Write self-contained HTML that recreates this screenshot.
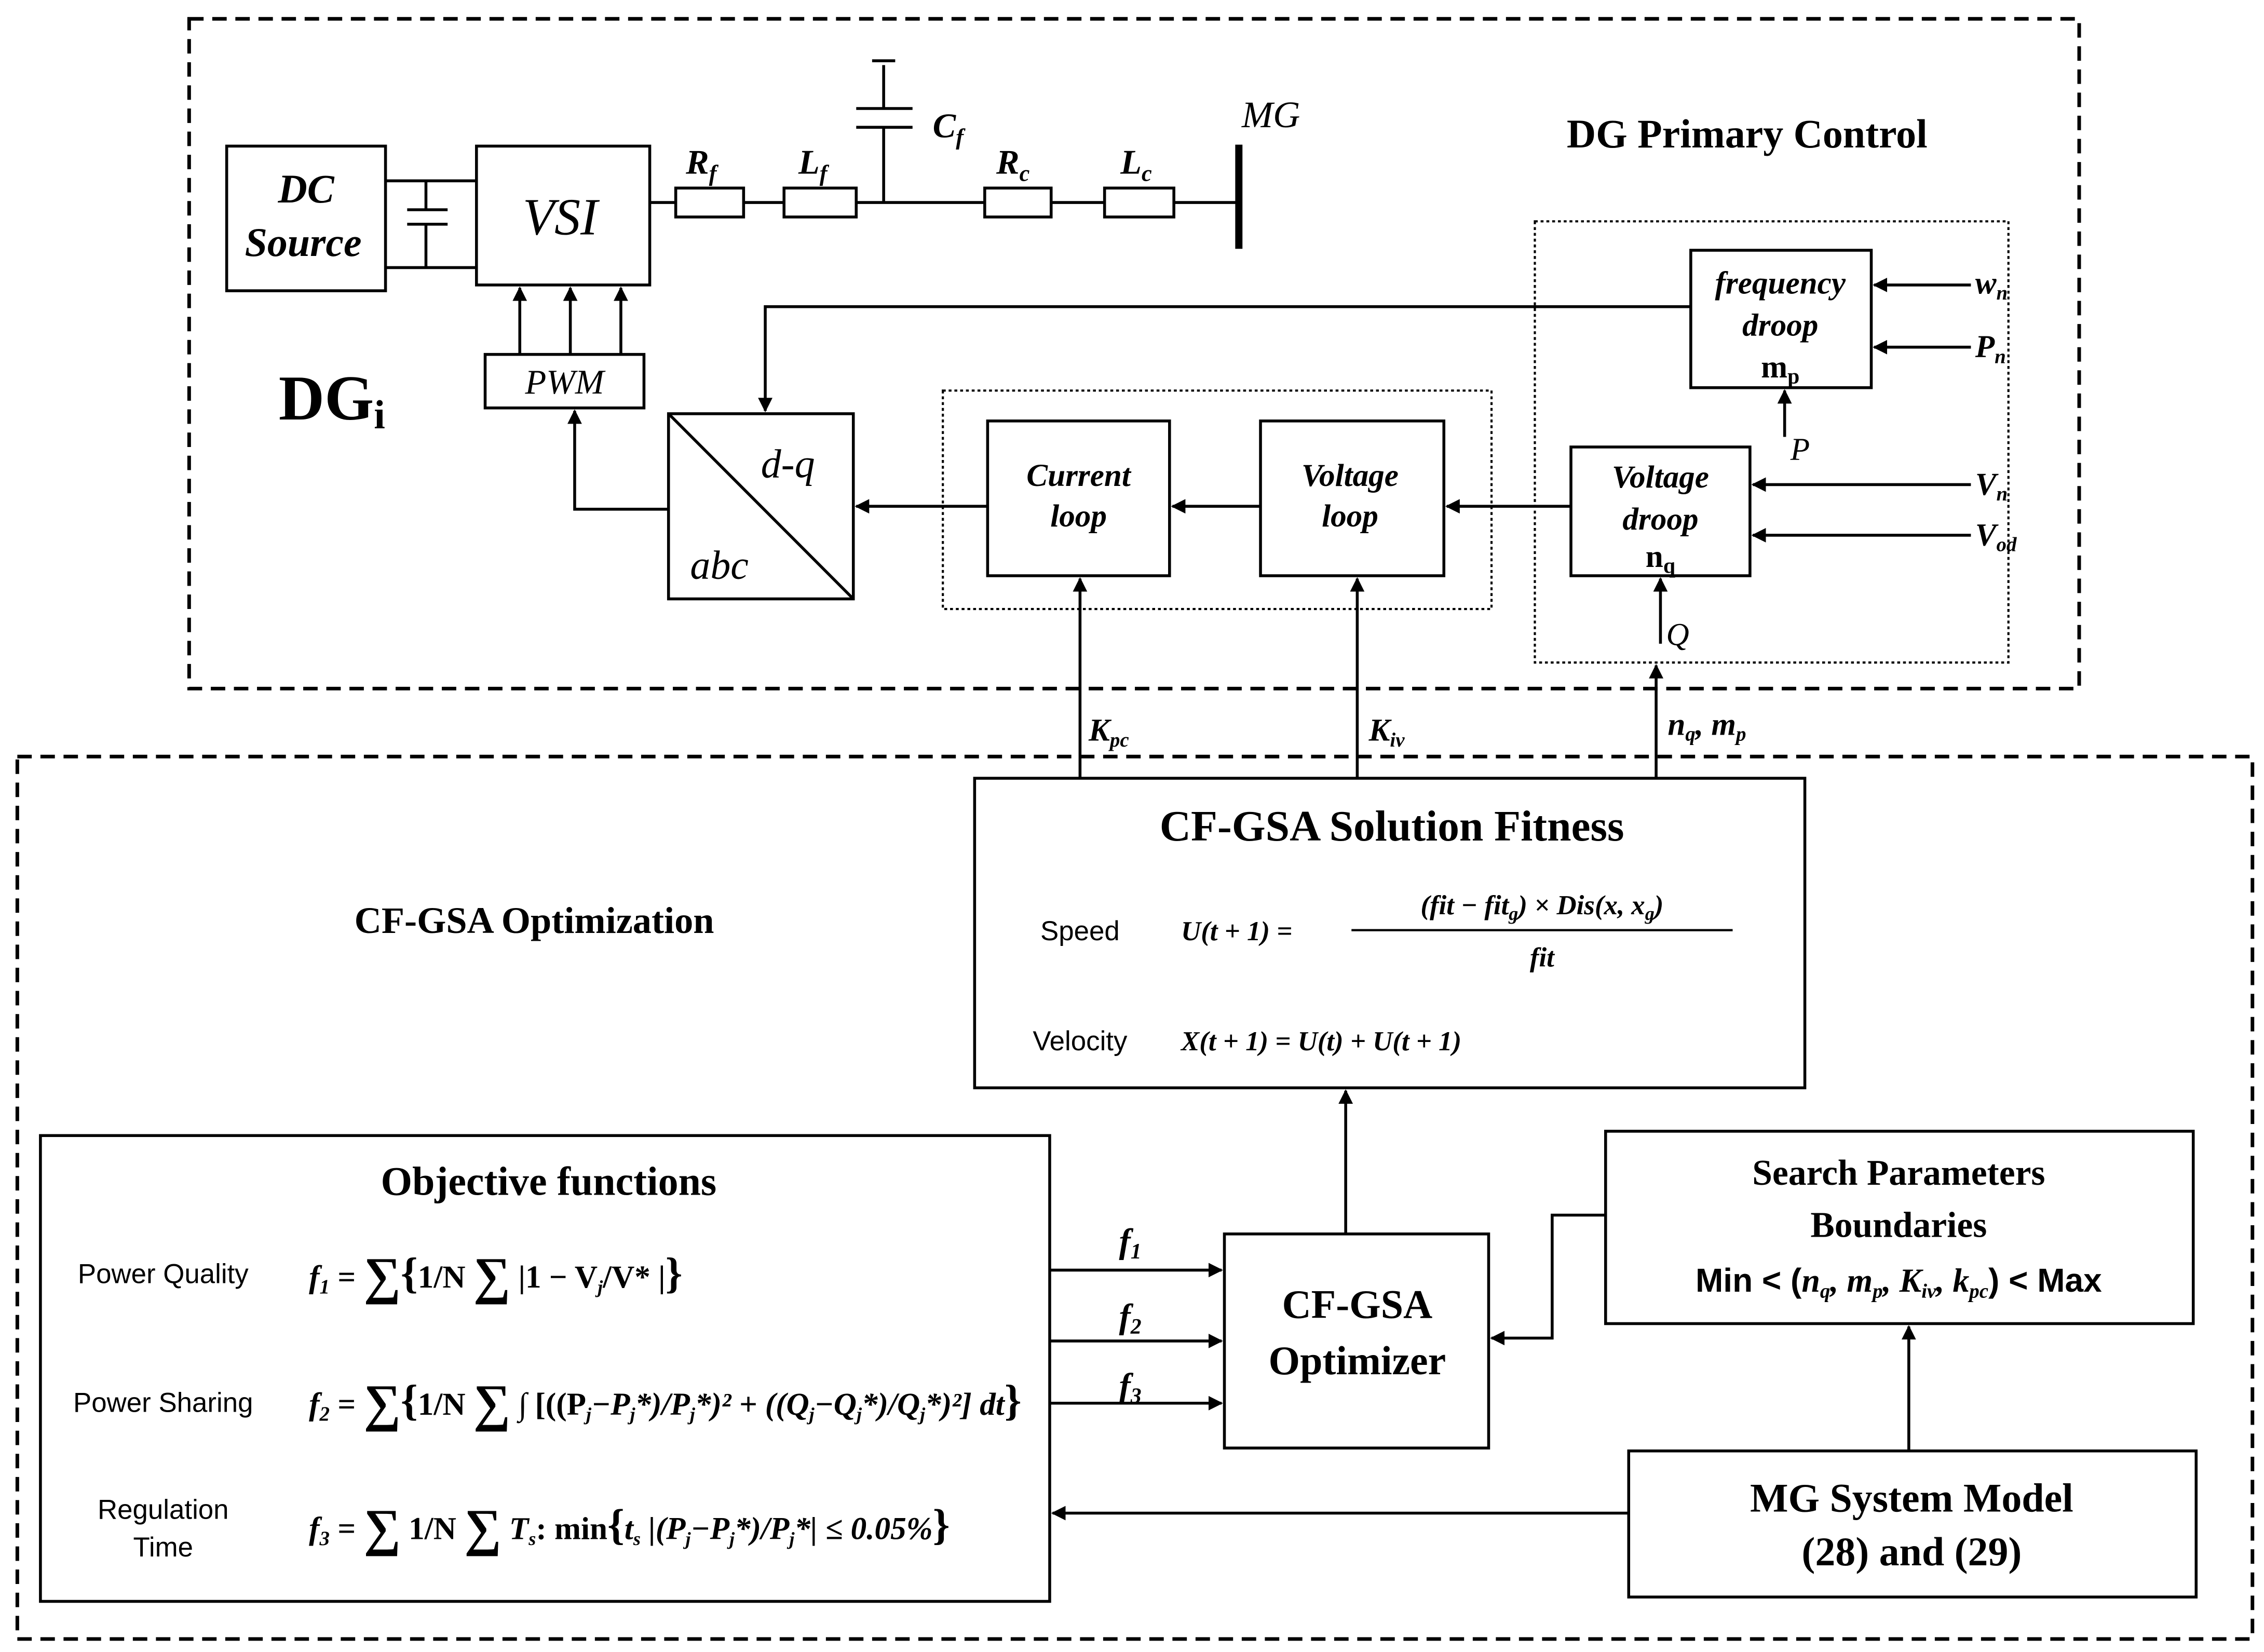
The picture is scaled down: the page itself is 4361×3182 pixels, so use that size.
<!DOCTYPE html>
<html><head><meta charset="utf-8"><style>
html,body{margin:0;padding:0;background:#fff;}
svg{display:block;}
text{font-family:"Liberation Serif",serif;}
.s{font-family:"Liberation Sans",sans-serif;}
</style></head><body>
<svg width="4361" height="3182" viewBox="0 0 1568 1142" preserveAspectRatio="none" xmlns="http://www.w3.org/2000/svg">
<defs><marker id="a" markerWidth="10" markerHeight="10" refX="9" refY="5" orient="auto" markerUnits="userSpaceOnUse"><path d="M0,0 L10,5 L0,10 z" fill="#000"/></marker></defs>
<g fill="none" stroke="#000" stroke-width="2">
<rect x="131" y="13" width="1309" height="463" stroke-dasharray="10,6" stroke-width="2.5"/>
<rect x="12" y="523" width="1548" height="610" stroke-dasharray="10,6" stroke-width="2.5"/>
<rect x="157" y="101" width="110" height="100"/>
<rect x="330" y="101" width="120" height="96"/>
<path d="M267,125 H330 M267,185 H330 M295,125 V145 M295,155 V185 M282,145 H310 M282,155 H310"/>
<path d="M450,140 H468 M515,140 H543 M593,140 H682 M728,140 H765 M813,140 H858"/>
<rect x="468" y="130" width="47" height="20"/>
<rect x="543" y="130" width="50" height="20"/>
<rect x="682" y="130" width="46" height="20"/>
<rect x="765" y="130" width="48" height="20"/>
<path d="M612,140 V88 M593,88 H632 M593,75 H632 M612,75 V45 M604,42 H620"/>
<path d="M858,100 V172" stroke-width="5"/>
<rect x="336" y="245" width="110" height="37"/>
<path d="M360,245 V199" marker-end="url(#a)"/>
<path d="M395,245 V199" marker-end="url(#a)"/>
<path d="M430,245 V199" marker-end="url(#a)"/>
<rect x="463" y="286" width="128" height="128"/>
<path d="M463,286 L591,414"/>
<path d="M463,352 H398 V284" marker-end="url(#a)"/>
<rect x="653" y="270" width="380" height="151" stroke-dasharray="2,2" stroke-width="1.5"/>
<rect x="684" y="291" width="126" height="107"/>
<rect x="873" y="291" width="127" height="107"/>
<path d="M873,350 H812" marker-end="url(#a)"/>
<path d="M684,350 H593" marker-end="url(#a)"/>
<rect x="1063" y="153" width="328" height="305" stroke-dasharray="2,2" stroke-width="1.5"/>
<rect x="1171" y="173" width="125" height="95"/>
<rect x="1088" y="309" width="124" height="89"/>
<path d="M1171,212 H530 V284" marker-end="url(#a)"/>
<path d="M1088,350 H1002" marker-end="url(#a)"/>
<path d="M1365,197 H1298" marker-end="url(#a)"/>
<path d="M1365,240 H1298" marker-end="url(#a)"/>
<path d="M1365,335 H1214" marker-end="url(#a)"/>
<path d="M1365,370 H1214" marker-end="url(#a)"/>
<path d="M1236,302 V270" marker-end="url(#a)"/>
<path d="M1150,445 V400" marker-end="url(#a)"/>
<path d="M748,538 V400" marker-end="url(#a)"/>
<path d="M940,538 V400" marker-end="url(#a)"/>
<path d="M1147,538 V460" marker-end="url(#a)"/>
<rect x="675" y="538" width="575" height="214"/>
<rect x="28" y="785" width="699" height="322"/>
<rect x="848" y="853" width="183" height="148"/>
<path d="M932,853 V754" marker-end="url(#a)"/>
<path d="M727,878 H846" marker-end="url(#a)"/>
<path d="M727,927 H846" marker-end="url(#a)"/>
<path d="M727,970 H846" marker-end="url(#a)"/>
<rect x="1112" y="782" width="407" height="133"/>
<path d="M1112,840 H1075 V925 H1033" marker-end="url(#a)"/>
<rect x="1128" y="1003" width="393" height="101"/>
<path d="M1322,1003 V917" marker-end="url(#a)"/>
<path d="M1128,1046 H729" marker-end="url(#a)"/>
</g>
<g fill="#000">
<text x="212" y="140" font-size="28" font-weight="bold" font-style="italic" text-anchor="middle">DC</text>
<text x="210" y="177" font-size="28" font-weight="bold" font-style="italic" text-anchor="middle">Source</text>
<text x="388" y="162" font-size="36" font-style="italic" text-anchor="middle">VSI</text>
<text x="475" y="120" font-size="24" font-weight="bold" font-style="italic">R<tspan font-size="16" dy="5">f</tspan></text>
<text x="553" y="120" font-size="24" font-weight="bold" font-style="italic">L<tspan font-size="16" dy="5">f</tspan></text>
<text x="646" y="95" font-size="24" font-weight="bold" font-style="italic">C<tspan font-size="16" dy="5">f</tspan></text>
<text x="690" y="120" font-size="24" font-weight="bold" font-style="italic">R<tspan font-size="16" dy="5">c</tspan></text>
<text x="776" y="120" font-size="24" font-weight="bold" font-style="italic">L<tspan font-size="16" dy="5">c</tspan></text>
<text x="860" y="88" font-size="26" font-style="italic">MG</text>
<text x="1210" y="102" font-size="28" font-weight="bold" text-anchor="middle">DG Primary Control</text>
<text x="391" y="272" font-size="24" font-style="italic" text-anchor="middle">PWM</text>
<text x="193" y="290" font-size="44" font-weight="bold">DG<tspan font-size="28" dy="6">i</tspan></text>
<text x="527" y="330" font-size="28" font-style="italic">d-q</text>
<text x="478" y="400" font-size="28" font-style="italic">abc</text>
<text x="747" y="336" font-size="22" font-weight="bold" font-style="italic" text-anchor="middle">Current</text>
<text x="747" y="364" font-size="22" font-weight="bold" font-style="italic" text-anchor="middle">loop</text>
<text x="935" y="336" font-size="22" font-weight="bold" font-style="italic" text-anchor="middle">Voltage</text>
<text x="935" y="364" font-size="22" font-weight="bold" font-style="italic" text-anchor="middle">loop</text>
<text x="1233" y="203" font-size="22" font-weight="bold" font-style="italic" text-anchor="middle">frequency</text>
<text x="1233" y="232" font-size="22" font-weight="bold" font-style="italic" text-anchor="middle">droop</text>
<text x="1233" y="261" font-size="22" font-weight="bold" text-anchor="middle">m<tspan font-size="15" dy="4">p</tspan></text>
<text x="1150" y="337" font-size="22" font-weight="bold" font-style="italic" text-anchor="middle">Voltage</text>
<text x="1150" y="366" font-size="22" font-weight="bold" font-style="italic" text-anchor="middle">droop</text>
<text x="1150" y="392" font-size="22" font-weight="bold" text-anchor="middle">n<tspan font-size="15" dy="4">q</tspan></text>
<text x="1368" y="203" font-size="22" font-weight="bold" font-style="italic">w<tspan font-size="14" dy="4">n</tspan></text>
<text x="1368" y="247" font-size="22" font-weight="bold" font-style="italic">P<tspan font-size="14" dy="4">n</tspan></text>
<text x="1368" y="342" font-size="22" font-weight="bold" font-style="italic">V<tspan font-size="14" dy="4">n</tspan></text>
<text x="1368" y="377" font-size="22" font-weight="bold" font-style="italic">V<tspan font-size="14" dy="4">od</tspan></text>
<text x="1240" y="318" font-size="22" font-style="italic">P</text>
<text x="1154" y="446" font-size="22" font-style="italic">Q</text>
<text x="754" y="512" font-size="22" font-weight="bold" font-style="italic">K<tspan font-size="14" dy="4">pc</tspan></text>
<text x="948" y="512" font-size="22" font-weight="bold" font-style="italic">K<tspan font-size="14" dy="4">iv</tspan></text>
<text x="1155" y="508" font-size="22" font-weight="bold" font-style="italic">n<tspan font-size="14" dy="4">q</tspan><tspan dy="-4">, m</tspan><tspan font-size="14" dy="4">p</tspan></text>
<text x="964" y="581" font-size="30" font-weight="bold" text-anchor="middle">CF-GSA Solution Fitness</text>
<text x="748" y="650" class="s" font-size="19" text-anchor="middle">Speed</text>
<text x="818" y="650" font-size="19" font-weight="bold" font-style="italic">U(t + 1) =</text>
<text x="1068" y="632" font-size="19" font-weight="bold" font-style="italic" text-anchor="middle">(fit − fit<tspan font-size="13" dy="4">g</tspan><tspan dy="-4">) × Dis(x, x</tspan><tspan font-size="13" dy="4">g</tspan><tspan dy="-4">)</tspan></text>
<line x1="936" y1="643" x2="1200" y2="643" stroke="#000" stroke-width="1.5"/>
<text x="1068" y="668" font-size="19" font-weight="bold" font-style="italic" text-anchor="middle">fit</text>
<text x="748" y="726" class="s" font-size="19" text-anchor="middle">Velocity</text>
<text x="818" y="726" font-size="19" font-weight="bold" font-style="italic">X(t + 1) =  U(t) + U(t + 1)</text>
<text x="370" y="645" font-size="26" font-weight="bold" text-anchor="middle">CF-GSA Optimization</text>
<text x="380" y="826" font-size="28" font-weight="bold" text-anchor="middle">Objective functions</text>
<text x="113" y="887" class="s" font-size="19" text-anchor="middle">Power Quality</text>
<text x="113" y="976" class="s" font-size="19" text-anchor="middle">Power Sharing</text>
<text x="113" y="1050" class="s" font-size="19" text-anchor="middle">Regulation</text>
<text x="113" y="1076" class="s" font-size="19" text-anchor="middle">Time</text>
<text x="214" y="890" font-size="22" font-weight="bold" font-style="italic">f<tspan font-size="14" dy="4">1</tspan><tspan dy="-4" font-style="normal"> = </tspan><tspan font-size="36" font-style="normal" dy="4">∑</tspan><tspan dy="-4" font-size="30" font-style="normal">{</tspan><tspan font-style="normal">1/N </tspan><tspan font-size="36" font-style="normal" dy="4">∑</tspan><tspan dy="-4" font-style="normal"> |1 − V</tspan><tspan font-size="13" dy="4">j</tspan><tspan dy="-4" font-style="normal">/V* |</tspan><tspan font-size="30" font-style="normal">}</tspan></text>
<text x="214" y="978" font-size="22" font-weight="bold" font-style="italic">f<tspan font-size="14" dy="4">2</tspan><tspan dy="-4" font-style="normal"> = </tspan><tspan font-size="36" font-style="normal" dy="4">∑</tspan><tspan dy="-4" font-size="30" font-style="normal">{</tspan><tspan font-style="normal">1/N </tspan><tspan font-size="36" font-style="normal" dy="4">∑</tspan><tspan dy="-4" font-style="normal"> ∫ [((P</tspan><tspan font-size="13" dy="4">j</tspan><tspan dy="-4">−P</tspan><tspan font-size="13" dy="4">j</tspan><tspan dy="-4">*)/P</tspan><tspan font-size="13" dy="4">j</tspan><tspan dy="-4">*)² + ((Q</tspan><tspan font-size="13" dy="4">j</tspan><tspan dy="-4">−Q</tspan><tspan font-size="13" dy="4">j</tspan><tspan dy="-4">*)/Q</tspan><tspan font-size="13" dy="4">j</tspan><tspan dy="-4">*)²] dt</tspan><tspan font-size="30" font-style="normal">}</tspan></text>
<text x="214" y="1064" font-size="22" font-weight="bold" font-style="italic">f<tspan font-size="14" dy="4">3</tspan><tspan dy="-4" font-style="normal"> = </tspan><tspan font-size="36" font-style="normal" dy="4">∑</tspan><tspan dy="-4" font-style="normal"> 1/N </tspan><tspan font-size="36" font-style="normal" dy="4">∑</tspan><tspan dy="-4"> T</tspan><tspan font-size="13" dy="4">s</tspan><tspan dy="-4" font-style="normal">: min</tspan><tspan font-size="30" font-style="normal">{</tspan><tspan>t</tspan><tspan font-size="13" dy="4">s</tspan><tspan dy="-4"> |(P</tspan><tspan font-size="13" dy="4">j</tspan><tspan dy="-4">−P</tspan><tspan font-size="13" dy="4">j</tspan><tspan dy="-4">*)/P</tspan><tspan font-size="13" dy="4">j</tspan><tspan dy="-4">*| ≤ 0.05%</tspan><tspan font-size="30" font-style="normal">}</tspan></text>
<text x="775" y="866" font-size="24" font-weight="bold" font-style="italic">f<tspan font-size="15" dy="4">1</tspan></text>
<text x="775" y="918" font-size="24" font-weight="bold" font-style="italic">f<tspan font-size="15" dy="4">2</tspan></text>
<text x="775" y="966" font-size="24" font-weight="bold" font-style="italic">f<tspan font-size="15" dy="4">3</tspan></text>
<text x="940" y="911" font-size="28" font-weight="bold" text-anchor="middle">CF-GSA</text>
<text x="940" y="950" font-size="28" font-weight="bold" text-anchor="middle">Optimizer</text>
<text x="1315" y="819" font-size="25" font-weight="bold" text-anchor="middle">Search Parameters</text>
<text x="1315" y="855" font-size="25" font-weight="bold" text-anchor="middle">Boundaries</text>
<text x="1315" y="893" class="s" font-size="23" font-weight="bold" text-anchor="middle">Min &lt; (<tspan font-style="italic" font-family="Liberation Serif">n<tspan font-size="14" dy="4">q</tspan><tspan dy="-4">, m</tspan><tspan font-size="14" dy="4">p</tspan><tspan dy="-4">, K</tspan><tspan font-size="14" dy="4">iv</tspan><tspan dy="-4">, k</tspan><tspan font-size="14" dy="4">pc</tspan></tspan><tspan dy="-4">) &lt; Max</tspan></text>
<text x="1324" y="1045" font-size="28" font-weight="bold" text-anchor="middle">MG System Model</text>
<text x="1324" y="1082" font-size="28" font-weight="bold" text-anchor="middle">(28) and (29)</text>
</g>
</svg>
</body></html>
